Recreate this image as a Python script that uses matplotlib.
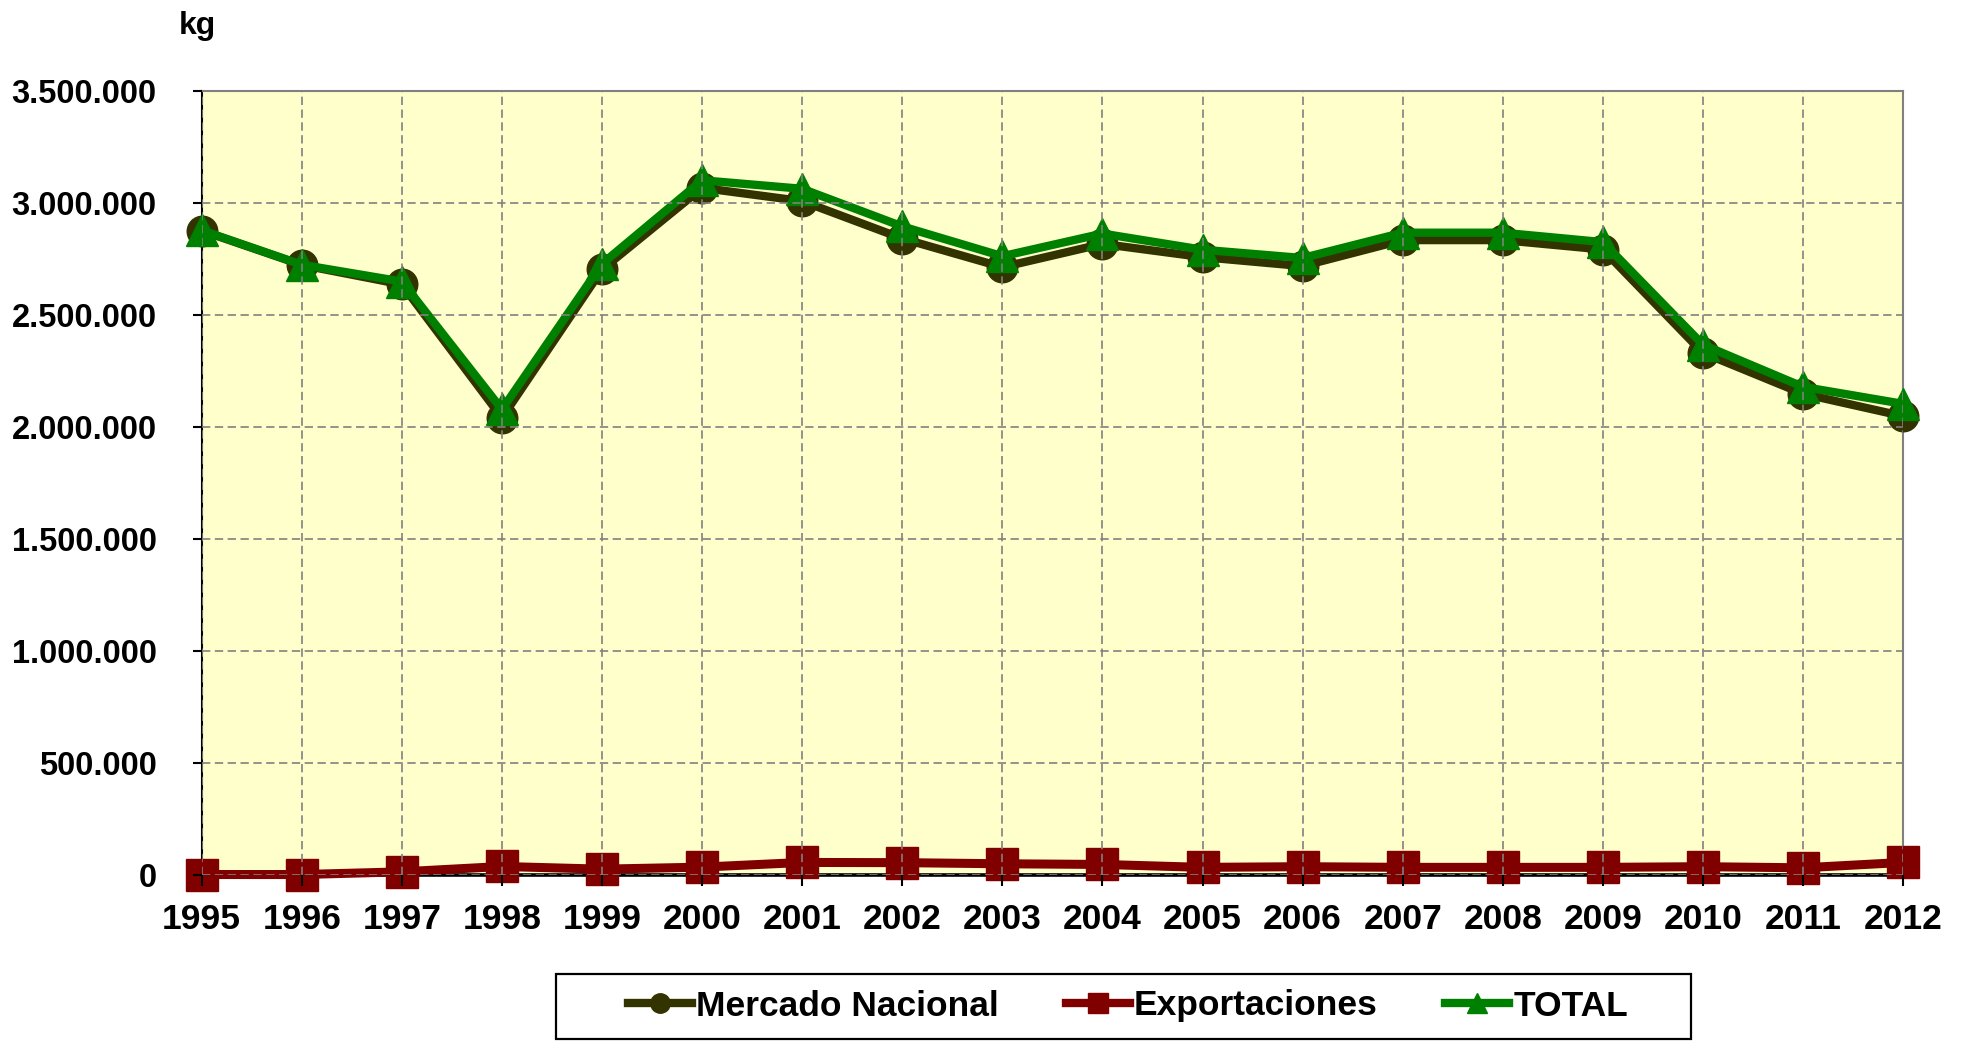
import matplotlib
matplotlib.use('Agg')
import matplotlib.pyplot as plt
from matplotlib.lines import Line2D
from matplotlib.patches import Rectangle
from matplotlib.ticker import FuncFormatter

plt.rcParams['font.family'] = ['Liberation Sans', 'DejaVu Sans']
plt.rcParams['font.weight'] = 'bold'

# years on the x axis
years = list(range(1995, 2013))

# kg
mercado = [2875000, 2722000, 2635000, 2040000, 2702000, 3066000, 3007000, 2840000, 2712000,
           2816000, 2757000, 2717000, 2833000, 2833000, 2791000, 2330000, 2147000, 2047000]
exportaciones = [1000, 1000, 13000, 37000, 25000, 34000, 55000, 54000, 49000,
                 46000, 33000, 36000, 33000, 33000, 33000, 36000, 31000, 55000]
total = [2877000, 2723000, 2648000, 2077000, 2727000, 3100000, 3062000, 2894000, 2761000,
         2862000, 2790000, 2753000, 2866000, 2866000, 2824000, 2366000, 2178000, 2102000]

yticks = [0, 500000, 1000000, 1500000, 2000000, 2500000, 3000000, 3500000]

c_merc = '#333300'
c_exp = '#800000'
c_tot = '#008000'

fig = plt.figure(figsize=(19.66, 10.41), dpi=100)
ax = fig.add_axes([0.1026, 0.1597, 0.8654, 0.7532])
ax.set_facecolor('#FFFFCC')

ax.plot(years, mercado, color=c_merc, lw=6, marker='o', ms=22, mec=c_merc,
        clip_on=False, zorder=3)
ax.plot(years, exportaciones, color=c_exp, lw=6.5, marker='s', ms=23, mec=c_exp,
        clip_on=False, zorder=3)
ax.plot(years, total, color=c_tot, lw=6, marker='^', ms=23, mec=c_tot,
        clip_on=False, zorder=3)

ax.set_xlim(1995, 2012)
ax.set_ylim(0, 3500000)
ax.set_xticks(years)
ax.set_yticks(yticks)
ax.yaxis.set_major_formatter(FuncFormatter(lambda v, p: f"{int(v):,}".replace(',', '.')))

ax.grid(True, color='#808080', lw=1.2, linestyle=(0, (5, 2.7)))
ax.xaxis.set_zorder(5)
ax.yaxis.set_zorder(5)

ax.tick_params(axis='y', direction='out', length=6.5, width=1.5, color='black',
               labelsize=23.5, pad=26)
ax.tick_params(axis='x', direction='out', length=8, width=1.5, color='black',
               labelsize=25.5, pad=12)
for lab in ax.get_xticklabels() + ax.get_yticklabels():
    lab.set_fontweight('bold')

ax.spines['left'].set_color('black')
ax.spines['left'].set_linewidth(1.5)
ax.spines['bottom'].set_color('black')
ax.spines['bottom'].set_linewidth(2.6)
ax.spines['top'].set_color('#808080')
ax.spines['top'].set_linewidth(1.5)
ax.spines['right'].set_color('#808080')
ax.spines['right'].set_linewidth(1.5)

fig.text(197 / 1966, 1 - 26 / 1041, 'kg', ha='center', va='center',
         fontsize=23, fontweight='bold')

# legend box at the bottom
fig.patches.append(Rectangle((556 / 1966, 2 / 1041), 1135 / 1966, 65 / 1041,
                             transform=fig.transFigure, facecolor='white',
                             edgecolor='black', lw=1.6))
handles = [
    Line2D([], [], color=c_merc, lw=6, marker='o', ms=14, mec=c_merc),
    Line2D([], [], color=c_exp, lw=6, marker='s', ms=14, mec=c_exp),
    Line2D([], [], color=c_tot, lw=6, marker='^', ms=14, mec=c_tot),
]
fig.legend(handles, ['Mercado Nacional', 'Exportaciones', 'TOTAL'], ncol=3,
           loc='center', bbox_to_anchor=(1128 / 1966, 1 - 1006 / 1041),
           frameon=False, prop={'size': 25.5, 'weight': 'bold'},
           handlelength=1.8, handletextpad=0.12, columnspacing=1.9)

fig.savefig('out.png', dpi=100)
